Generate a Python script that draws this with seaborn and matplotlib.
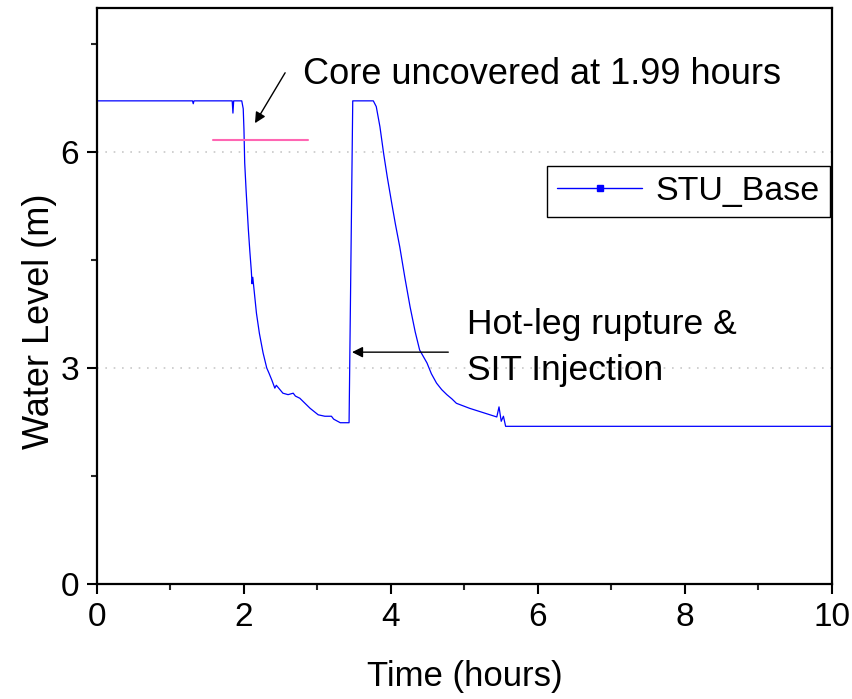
import matplotlib
matplotlib.use("Agg")
import matplotlib.pyplot as plt
from matplotlib.lines import Line2D
from matplotlib.ticker import MultipleLocator
import seaborn as sns
import pandas as pd

time_h = [0.0, 1.30, 1.31, 1.32, 1.84, 1.85, 1.86, 1.97, 1.99, 2.00, 2.01, 2.03, 2.06, 2.08, 2.10,
          2.11, 2.12, 2.17, 2.21, 2.26, 2.31, 2.34, 2.38, 2.42, 2.44, 2.53, 2.60, 2.67, 2.70,
          2.76, 2.90, 3.01, 3.10, 3.19, 3.22, 3.31, 3.43, 3.48, 3.76, 3.80, 3.85, 3.90, 3.95,
          4.01, 4.06, 4.12, 4.19, 4.26, 4.33, 4.39, 4.49, 4.55, 4.62, 4.69, 4.76, 4.83, 4.89,
          5.07, 5.44, 5.47, 5.50, 5.53, 5.56, 5.60, 10.0]
level_m = [6.71, 6.71, 6.67, 6.71, 6.71, 6.54, 6.71, 6.71, 6.60, 6.31, 5.85, 5.45, 4.92, 4.62, 4.35,
           4.17, 4.26, 3.76, 3.48, 3.21, 3.00, 2.93, 2.83, 2.72, 2.76, 2.65, 2.63, 2.65, 2.61,
           2.58, 2.44, 2.35, 2.33, 2.33, 2.29, 2.24, 2.24, 6.71, 6.71, 6.63, 6.35, 5.98, 5.65,
           5.29, 5.00, 4.68, 4.25, 3.85, 3.50, 3.25, 3.07, 2.92, 2.79, 2.70, 2.63, 2.57, 2.51,
           2.44, 2.32, 2.46, 2.26, 2.33, 2.19, 2.19, 2.19]
series_name = "STU_Base"
marker_t = [1.58, 2.87]
marker_level = [6.17, 6.17]

sns.set_theme(style="ticks")
plt.rcParams["font.family"] = ["Liberation Sans", "DejaVu Sans"]
plt.rcParams["text.color"] = "black"
plt.rcParams["axes.labelcolor"] = "black"

df = pd.DataFrame({"Time (hours)": time_h, "Water Level (m)": level_m})

fig = plt.figure(figsize=(8.52, 6.99), dpi=100)
ax = fig.add_axes([0.1138, 0.1645, 0.8627, 0.8241])

sns.lineplot(data=df, x="Time (hours)", y="Water Level (m)", ax=ax, color="#0000ff",
             linewidth=0.9, estimator=None, sort=False)
ax.plot(marker_t, marker_level, color="#ff66b3", linewidth=1.5)

ax.set_xlim(0, 10)
ax.set_ylim(0, 8)
ax.xaxis.set_major_locator(MultipleLocator(2))
ax.xaxis.set_minor_locator(MultipleLocator(1))
ax.yaxis.set_major_locator(MultipleLocator(3))
ax.yaxis.set_minor_locator(MultipleLocator(1.5))
ax.tick_params(which="major", direction="out", length=7, width=1.5, labelsize=24,
               colors="black", pad=6)
ax.tick_params(which="minor", direction="out", length=4, width=1.5)
ax.yaxis.grid(True, which="major", linestyle=(0, (1, 4)), color="#c8c8c8", linewidth=1.2)
for s in ax.spines.values():
    s.set_visible(True)
    s.set_linewidth(1.6)
    s.set_color("black")

ax.set_xlabel("Time (hours)", fontsize=25, color="black")
ax.set_ylabel("Water Level (m)", fontsize=26, color="black")
ax.xaxis.set_label_coords(0.5, -0.132)
ax.yaxis.set_label_coords(-0.055, 0.457)

ax.text(2.80, 7.08, "Core uncovered at 1.99 hours", fontsize=26, ha="left", va="center",
        color="black")
ax.annotate("", xy=(2.15, 6.40), xytext=(2.56, 7.10),
            arrowprops=dict(arrowstyle="-|>", color="black", lw=1.0, shrinkA=0, shrinkB=0,
                            mutation_scale=16))
ax.annotate("", xy=(3.47, 3.22), xytext=(4.78, 3.22),
            arrowprops=dict(arrowstyle="-|>", color="black", lw=1.0, shrinkA=0, shrinkB=0,
                            mutation_scale=16))
ax.text(5.03, 3.29, "Hot-leg rupture &\nSIT Injection", fontsize=25.5, ha="left", va="center",
        linespacing=1.5, color="black")

handle = Line2D([], [], color="#0000ff", lw=1.0, marker="s", markersize=4.5)
leg = ax.legend(handles=[handle], labels=[series_name], loc="upper left",
                bbox_to_anchor=(0.612, 0.726), borderaxespad=0, fontsize=24.5,
                handlelength=2.5, frameon=True, fancybox=False, framealpha=1,
                borderpad=0.3, handletextpad=0.4)
leg.get_frame().set_edgecolor("black")
leg.get_frame().set_linewidth(1.0)

fig.savefig("out.png", dpi=100)
